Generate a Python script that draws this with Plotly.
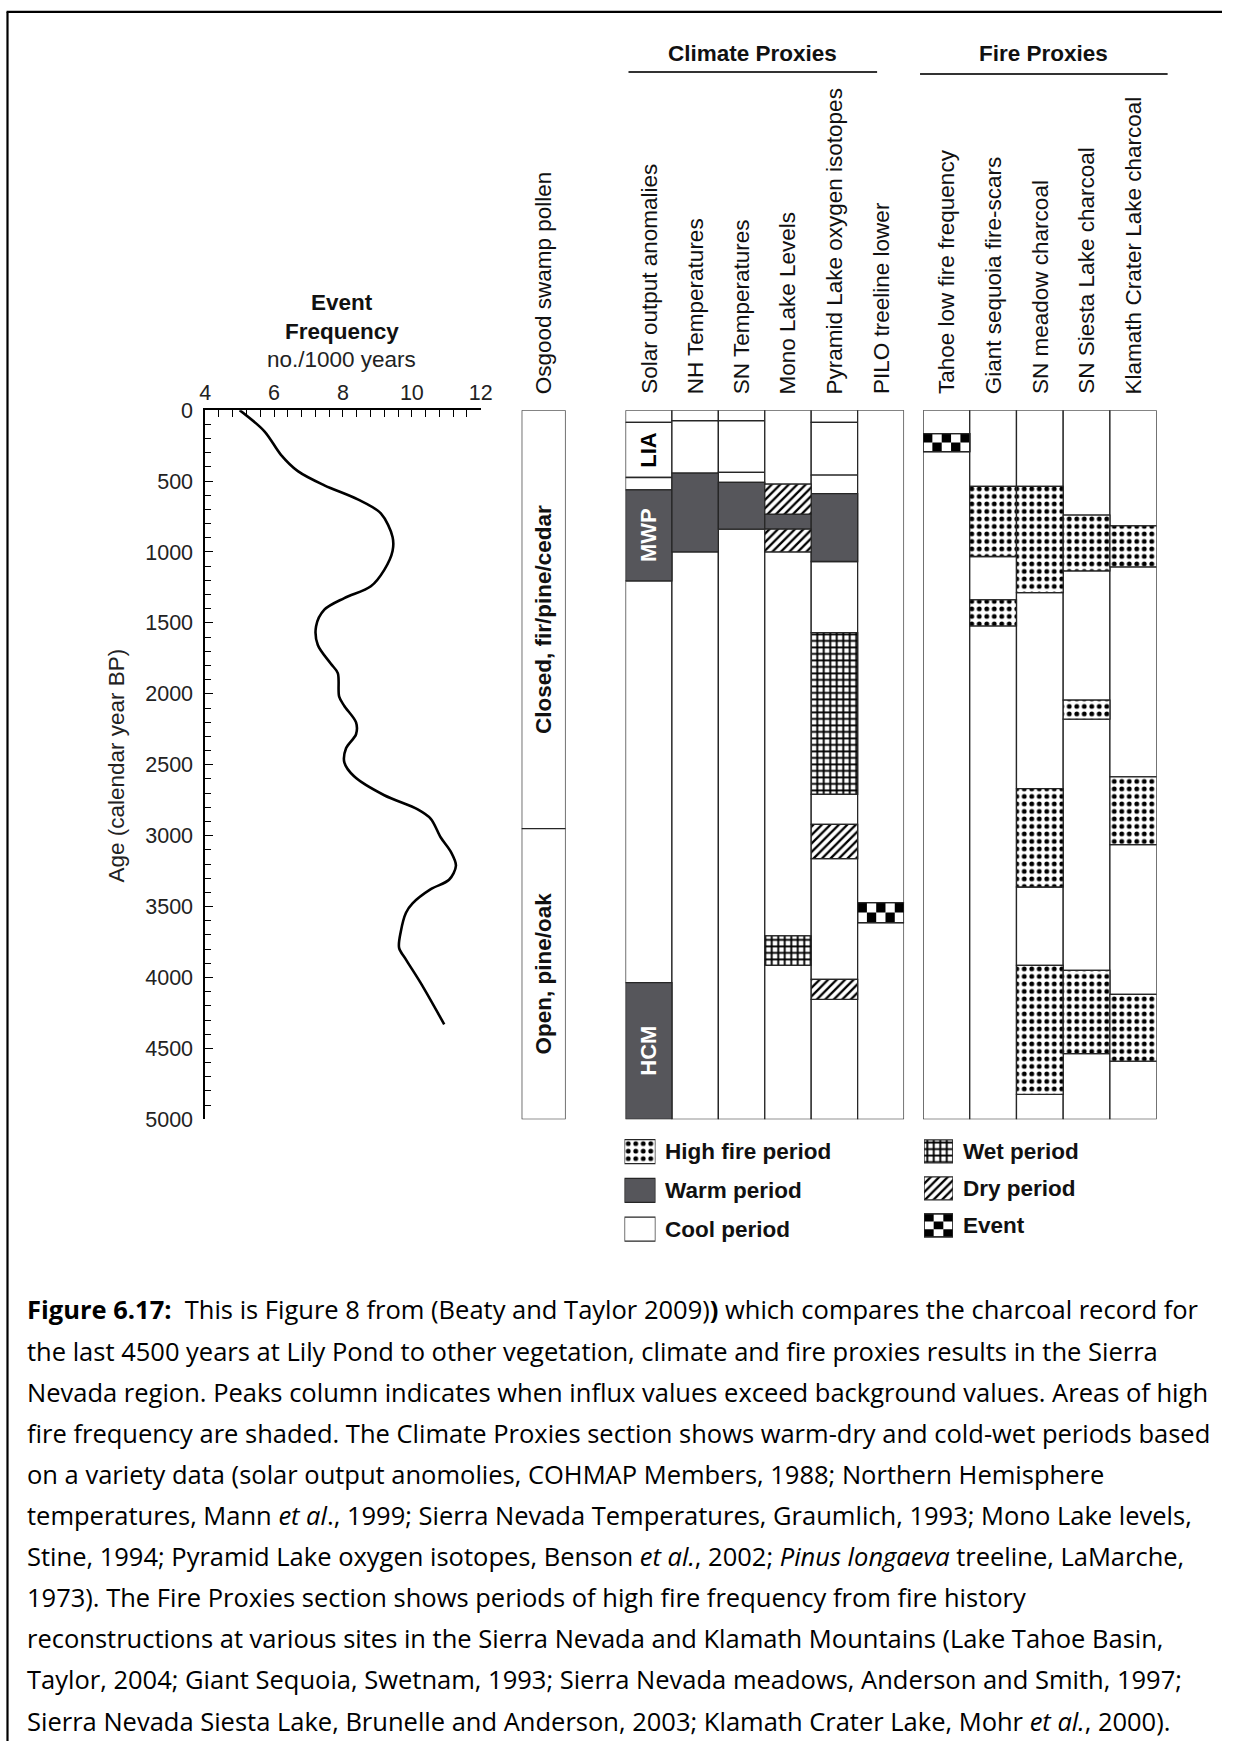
import plotly.graph_objects as go

# ------------------------------------------------------------------ data
freq_age = [0, 149, 315, 430, 530, 629, 728, 894, 993, 1126, 1242, 1325, 1407, 1523,
            1656, 1788, 1854, 2020, 2086, 2202, 2285, 2384, 2483, 2583, 2715, 2815,
            2881, 3013, 3113, 3212, 3311, 3377, 3477, 3543, 3675, 3791, 3874, 4040, 4330]
freq_val = [5.0, 5.72, 6.2, 6.69, 7.46, 8.43, 9.1, 9.44, 9.44, 9.2, 8.81, 8.04, 7.46, 7.22,
            7.27, 7.65, 7.85, 7.89, 8.04, 8.38, 8.38, 8.09, 8.04, 8.33, 9.2, 10.17,
            10.55, 10.84, 11.13, 11.28, 11.08, 10.55, 10.02, 9.83, 9.68, 9.63, 9.83, 10.26, 10.94]
freq_ticks = [4, 6, 8, 10, 12]
age_ticks = [0, 500, 1000, 1500, 2000, 2500, 3000, 3500, 4000, 4500, 5000]

pollen_bounds = [0, 2950, 5000]
pollen_labels = ["Closed, fir/pine/cedar", "Open, pine/oak"]

climate_names = ["Solar output anomalies", "NH Temperatures", "SN Temperatures",
                 "Mono Lake Levels", "Pyramid Lake oxygen isotopes", "PILO treeline lower"]
solar_bounds = [0, 87, 475, 562, 1204, 4036, 5000]
solar_kinds = ["cool", "cool", "cool", "warm", "cool", "warm"]
nh_bounds = [0, 75, 444, 999, 5000]
nh_kinds = ["cool", "cool", "warm", "cool"]
snt_bounds = [0, 75, 439, 510, 839, 5000]
snt_kinds = ["cool", "cool", "cool", "warm", "cool"]
mono_bounds = [0, 522, 733, 839, 999, 3707, 3914, 5000]
mono_kinds = ["cool", "dry", "warm", "dry", "cool", "wet", "cool"]
pyramid_bounds = [0, 87, 458, 588, 1067, 1568, 2708, 2920, 3162, 4013, 4154, 5000]
pyramid_kinds = ["cool", "cool", "cool", "warm", "cool", "wet", "cool", "dry", "cool", "dry", "cool"]
pilo_bounds = [0, 3472, 3613, 5000]
pilo_kinds = ["cool", "event", "cool"]

period_labels = ["LIA", "MWP", "HCM"]
period_segments = [1, 3, 5]          # index of the solar segment that carries the label

fire_names = ["Tahoe low fire frequency", "Giant sequoia fire-scars", "SN meadow charcoal",
              "SN Siesta Lake charcoal", "Klamath Crater Lake charcoal"]
tahoe_bounds = [0, 165, 292, 5000]
tahoe_kinds = ["cool", "event", "cool"]
sequoia_bounds = [0, 538, 1032, 1338, 1521, 5000]
sequoia_kinds = ["cool", "fire", "cool", "fire", "cool"]
meadow_bounds = [0, 538, 1286, 2668, 3362, 3914, 4824, 5000]
meadow_kinds = ["cool", "fire", "cool", "fire", "cool", "fire", "cool"]
siesta_bounds = [0, 740, 1133, 2045, 2179, 3949, 4537, 5000]
siesta_kinds = ["cool", "fire", "cool", "fire", "cool", "fire", "cool"]
klamath_bounds = [0, 816, 1105, 2586, 3063, 4119, 4589, 5000]
klamath_kinds = ["cool", "fire", "cool", "fire", "cool", "fire", "cool"]

legend_left = ["High fire period", "Warm period", "Cool period"]
legend_left_kinds = ["fire", "warm", "cool"]
legend_right = ["Wet period", "Dry period", "Event"]
legend_right_kinds = ["wet", "dry", "event"]

caption_lines = [
    "<b>Figure 6.17:</b>\u00a0 This is Figure 8 from (Beaty and Taylor 2009)<b>)</b> which compares the charcoal record for",
    "the last 4500 years at Lily Pond to other vegetation, climate and fire proxies results in the Sierra",
    "Nevada region. Peaks column indicates when influx values exceed background values. Areas of high",
    "fire frequency are shaded. The Climate Proxies section shows warm-dry and cold-wet periods based",
    "on a variety data (solar output anomolies, COHMAP Members, 1988; Northern Hemisphere",
    "temperatures, Mann <i>et al</i>., 1999; Sierra Nevada Temperatures, Graumlich, 1993; Mono Lake levels,",
    "Stine, 1994; Pyramid Lake oxygen isotopes, Benson <i>et al.</i>, 2002; <i>Pinus longaeva</i> treeline, LaMarche,",
    "1973). The Fire Proxies section shows periods of high fire frequency from fire history",
    "reconstructions at various sites in the Sierra Nevada and Klamath Mountains (Lake Tahoe Basin,",
    "Taylor, 2004; Giant Sequoia, Swetnam, 1993; Sierra Nevada meadows, Anderson and Smith, 1997;",
    "Sierra Nevada Siesta Lake, Brunelle and Anderson, 2003; Klamath Crater Lake, Mohr <i>et al.</i>, 2000).",
]

# ------------------------------------------------------------------ layout helpers
W, H = 1234, 1754
SX, OX = 0.987, 4.5          # measured capture mapping (screen = S * page + O)
SY, OY = 0.986, 12.0


def px(x):
    return (x - OX) / SX / W


def py(y):
    return 1 - (y - OY) / SY / H


def clip(v):
    return min(max(v, 0.0005), 0.9995)


FONT = "Liberation Sans, Arial, sans-serif"
CAPFONT = "Open Sans, Liberation Sans, sans-serif"
WARM = "#56565b"
EDGE = dict(color="#262626", width=1.3)
TXT = "#111111"
LBL = 22.5


def style(kind):
    if kind == "warm":
        return dict(color=WARM, line=EDGE)
    if kind in ("cool", "event"):
        return dict(color="white", line=EDGE)
    pat = {"fire": dict(shape=".", size=7.5, solidity=0.33),
           "wet": dict(shape="+", size=6.5, solidity=0.5),
           "dry": dict(shape="/", size=6, solidity=0.38)}[kind]
    pat.update(fgcolor="black", bgcolor="white", fillmode="replace")
    return dict(color="white", pattern=pat, line=EDGE)


fig = go.Figure()


def checker(i, s, e, nc, nr):
    xs, ws, bs, hs = [], [], [], []
    for r in range(nr):
        for c in range(nc):
            if (r + c) % 2 == 0:
                xs.append(i - 0.5 + (c + 0.5) / nc)
                ws.append(1 / nc)
                bs.append(s + r * (e - s) / nr)
                hs.append((e - s) / nr)
    return xs, ws, bs, hs


def add_panel(columns, xa):
    groups = {}
    events = []
    for i, (bounds, kinds) in enumerate(columns):
        for s, e, k in zip(bounds[:-1], bounds[1:], kinds):
            g = groups.setdefault(k, ([], [], []))
            g[0].append(i)
            g[1].append(s)
            g[2].append(e - s)
            if k == "event":
                events.append((i, s, e))
    for k, (xs, bs, ys) in groups.items():
        fig.add_trace(go.Bar(x=xs, y=ys, base=bs, width=1, marker=style(k),
                             xaxis=xa, yaxis="y", hoverinfo="skip"))
    for (i, s, e) in events:
        xs, ws, bs, hs = checker(i, s, e, 5, 2)
        fig.add_trace(go.Bar(x=xs, y=hs, base=bs, width=ws,
                             marker=dict(color="black", line=dict(width=0)),
                             xaxis=xa, yaxis="y", hoverinfo="skip"))
        fig.add_trace(go.Bar(x=[i], y=[e - s], base=[s], width=1,
                             marker=dict(color="rgba(0,0,0,0)", line=EDGE),
                             xaxis=xa, yaxis="y", hoverinfo="skip"))


# ---- event frequency curve
fig.add_trace(go.Scatter(x=freq_val, y=freq_age, mode="lines",
                         line=dict(color="black", width=2.6, shape="spline", smoothing=0.9),
                         xaxis="x", yaxis="y", hoverinfo="skip"))

# ---- Osgood swamp pollen
add_panel([(pollen_bounds, ["cool", "cool"])], "x2")

# ---- climate and fire panels
climate_cols = [(solar_bounds, solar_kinds), (nh_bounds, nh_kinds), (snt_bounds, snt_kinds),
                (mono_bounds, mono_kinds), (pyramid_bounds, pyramid_kinds), (pilo_bounds, pilo_kinds)]
fire_cols = [(tahoe_bounds, tahoe_kinds), (sequoia_bounds, sequoia_kinds), (meadow_bounds, meadow_kinds),
             (siesta_bounds, siesta_kinds), (klamath_bounds, klamath_kinds)]
add_panel(climate_cols, "x3")
add_panel(fire_cols, "x4")


# ---- legends (drawn as bars on small axes)
def add_legend(kinds, xa, ya, h):
    for i, k in enumerate(kinds):
        fig.add_trace(go.Bar(y=[i], x=[1], base=[0], width=h, orientation="h",
                             marker=style(k), xaxis=xa, yaxis=ya, hoverinfo="skip"))
        if k == "event":
            ys, ws, bs, xs = [], [], [], []
            n = 3
            for r in range(n):
                for c in range(n):
                    if (r + c) % 2 == 0:
                        ys.append(i - h / 2 + (r + 0.5) * h / n)
                        ws.append(h / n)
                        bs.append(c / n)
                        xs.append(1 / n)
            fig.add_trace(go.Bar(y=ys, x=xs, base=bs, width=ws, orientation="h",
                                 marker=dict(color="black", line=dict(width=0)),
                                 xaxis=xa, yaxis=ya, hoverinfo="skip"))
            fig.add_trace(go.Bar(y=[i], x=[1], base=[0], width=h, orientation="h",
                                 marker=dict(color="rgba(0,0,0,0)", line=EDGE),
                                 xaxis=xa, yaxis=ya, hoverinfo="skip"))


add_legend(legend_left_kinds, "x5", "y5", 0.62)
add_legend(legend_right_kinds, "x6", "y6", 0.62)

ann = []


def note(x, y, text, size=LBL, bold=False, color=TXT, angle=0, **kw):
    d = dict(xref="paper", yref="paper", x=x, y=y, text=text, showarrow=False,
             xanchor="center", yanchor="middle", textangle=angle,
             font=dict(family=FONT, size=size, color=color, weight="bold" if bold else "normal"))
    d.update(kw)
    ann.append(d)


# legend labels
for i, t in enumerate(legend_left):
    note(1, i, t, bold=True, xref="x5", yref="y5", xshift=8, xanchor="left")
for i, t in enumerate(legend_right):
    note(1, i, t, bold=True, xref="x6", yref="y6", xshift=8, xanchor="left")

# column headers
for i, t in enumerate(climate_names):
    note(i, py(397), t, xref="x3", yanchor="bottom", angle=-90)
for i, t in enumerate(fire_names):
    note(i, py(397), t, xref="x4", yanchor="bottom", angle=-90)
note(0, py(397), "Osgood swamp pollen", xref="x2", yanchor="bottom", angle=-90)

# pollen zone labels
for j, t in enumerate(pollen_labels):
    mid = (pollen_bounds[j] + pollen_bounds[j + 1]) / 2
    note(0, mid, t, bold=True, xref="x2", yref="y", angle=-90)

# period labels in solar column
for t, seg in zip(period_labels, period_segments):
    mid = (solar_bounds[seg] + solar_bounds[seg + 1]) / 2
    col = "white" if solar_kinds[seg] == "warm" else "black"
    note(0, mid, t, size=22, bold=True, color=col, xref="x3", yref="y", angle=-90)

# group titles
note(px(752), py(54), "Climate Proxies", bold=True)
note(px(1044), py(54), "Fire Proxies", bold=True)

# event frequency titles
note(px(341), py(303), "Event", bold=True)
note(px(341), py(332), "Frequency", bold=True)
note(px(341), py(360), "no./1000 years", color="#222")
note(px(115), py(766), "Age (calendar year BP)", color="#222", angle=-90)

# caption
for k, line in enumerate(caption_lines):
    ann.append(dict(xref="paper", yref="paper", x=px(24), y=py(1310 + 41.1 * k), xanchor="left",
                    yanchor="middle", text=line, showarrow=False, align="left",
                    font=dict(family=CAPFONT, size=25.5, color="black")))

shapes = [
    dict(type="line", xref="paper", yref="paper", x0=px(628), x1=px(877), y0=py(73), y1=py(73),
         line=dict(color="#333", width=2)),
    dict(type="line", xref="paper", yref="paper", x0=px(920), x1=px(1168), y0=py(75), y1=py(75),
         line=dict(color="#333", width=2)),
    dict(type="line", xref="paper", yref="paper", x0=clip(px(6)), x1=clip(px(6)),
         y0=clip(py(7)), y1=0, line=dict(color="black", width=2.2)),
    dict(type="line", xref="paper", yref="paper", x0=clip(px(5)), x1=1,
         y0=clip(py(7)), y1=clip(py(7)), line=dict(color="black", width=2.2)),
]

hidden = dict(visible=False, showgrid=False, zeroline=False, fixedrange=True)

fig.update_layout(
    width=W, height=H, margin=dict(l=0, r=0, t=0, b=0),
    paper_bgcolor="white", plot_bgcolor="rgba(0,0,0,0)",
    showlegend=False, barmode="overlay",
    font=dict(family=FONT, size=21, color="#222"),
    xaxis=dict(domain=[px(204), px(480)], range=[4, 12], side="top", anchor="y",
               tick0=4, dtick=2, ticks="inside", ticklen=7, tickwidth=1.4, tickcolor="black",
               minor=dict(tick0=4, dtick=0.4, ticks="inside", ticklen=7, tickwidth=1.2, tickcolor="black"),
               showline=True, linecolor="black", linewidth=1.6, showgrid=False, zeroline=False,
               tickfont=dict(family=FONT, size=21.5, color="#222")),
    yaxis=dict(domain=[py(1120), py(411)], range=[5000, 0], anchor="x",
               tick0=0, dtick=500, ticks="inside", ticklen=8, tickwidth=1.4, tickcolor="black",
               minor=dict(tick0=0, dtick=100, ticks="inside", ticklen=6, tickwidth=1.2, tickcolor="black"),
               showline=True, linecolor="black", linewidth=1.6, showgrid=False, zeroline=False,
               ticklabelstandoff=6,
               tickfont=dict(family=FONT, size=21.5, color="#222")),
    xaxis2=dict(domain=[px(521), px(565)], range=[-0.5, 0.5], anchor="y", **hidden),
    xaxis3=dict(domain=[px(625), px(904)], range=[-0.5, 5.5], anchor="y", **hidden),
    xaxis4=dict(domain=[px(923), px(1157)], range=[-0.5, 4.5], anchor="y", **hidden),
    xaxis5=dict(domain=[px(624), px(655)], range=[0, 1], anchor="y5", **hidden),
    yaxis5=dict(domain=[py(1249), py(1133)], range=[2.5, -0.5], anchor="x5", **hidden),
    xaxis6=dict(domain=[px(924), px(953)], range=[0, 1], anchor="y6", **hidden),
    yaxis6=dict(domain=[py(1244.5), py(1133.5)], range=[2.5, -0.5], anchor="x6", **hidden),
    annotations=ann, shapes=shapes,
)

fig.write_html("out.html", config={"displayModeBar": False},
               post_script="document.body.style.margin='0';document.body.style.overflow='hidden';")
